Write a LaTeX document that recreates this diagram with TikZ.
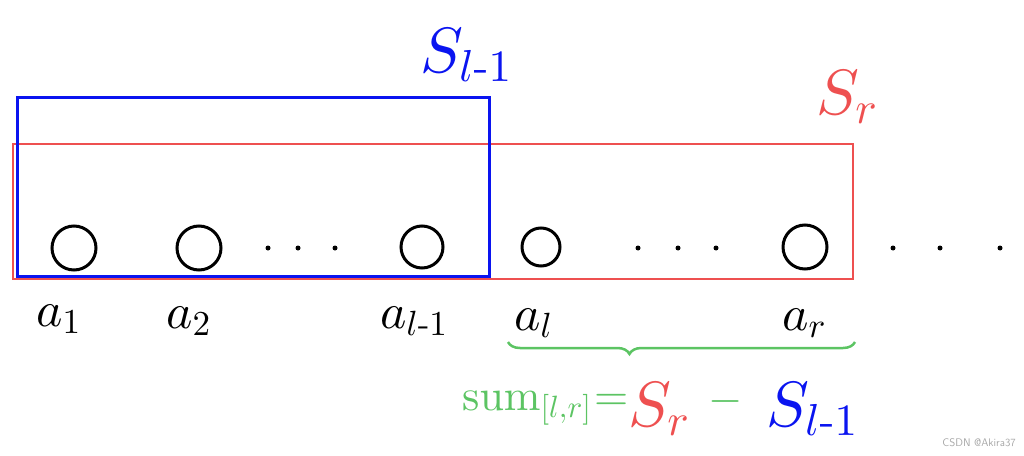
\documentclass[tikz,border=0pt]{standalone}
\DeclareFontShape{OML}{cmm}{m}{it}{<->cmmi10}{}
\DeclareFontShape{OMS}{cmsy}{m}{n}{<->cmsy10}{}
\DeclareFontShape{OT1}{cmr}{m}{n}{<->cmr10}{}
\DeclareFontShape{OMX}{cmex}{m}{n}{<->cmex10}{}
\newcommand{\hy}{\mathord{\mathchar"002D}}
\usetikzlibrary{decorations.pathreplacing}
\definecolor{myblue}{HTML}{0A14F0}
\definecolor{myred}{HTML}{EE5050}
\definecolor{mygreen}{HTML}{5CC463}
\begin{document}
\begin{tikzpicture}[x=1pt,y=-1pt,
  elem/.style={circle, draw=black, line width=3pt, minimum size=44pt, inner sep=0pt},
  lbl/.style={anchor=base west, inner sep=0pt, font=\fontsize{50}{50}\selectfont},
  dotmark/.style={fill=black, circle, inner sep=0pt, minimum size=5pt},
  big/.style={anchor=base west, inner sep=0pt, font=\fontsize{64}{64}\selectfont},
  frm/.style={anchor=base west, inner sep=0pt, text=mygreen, font=\fontsize{44}{44}\selectfont}]
\useasboundingbox (0,0) rectangle (1024,455);
% rectangles
\draw[myred, line width=2.8pt] (13,144) rectangle (853,279);
\draw[myblue, line width=3pt] (17,97) rectangle (489,276);
% elements
\node[elem] (c1) at (74,248) {};
\node[elem] (c2) at (199,248) {};
\node[elem, minimum size=42pt] (c3) at (422,247) {};
\node[elem, minimum size=38pt] (c4) at (541,247) {};
\node[elem, minimum size=44pt] (c5) at (805,247) {};
% dots
\foreach \n/\x in {d1/268,d2/298,d3/335,d4/638,d5/678,d6/716,d7/893,d8/940,d9/1000}
  \node[dotmark] (\n) at (\x,248) {};
% labels
\node[lbl] (a1) at (36,326) {$a_1$};
\node[lbl] (a2) at (166,328) {$a_2$};
\node[lbl] (al1) at (380,328) {$a_{l\hy1}$};
\node[lbl] (al) at (514,330) {$a_l$};
\node[lbl] (ar) at (782,330) {$a_r$};
% top labels
\node[big, text=myblue] (Sl1) at (420,72) {$S_{l\hy1}$};
\node[big, text=myred] (Sr) at (816,114) {$S_r$};
% brace
\coordinate (bl) at (508,342);
\coordinate (br) at (855,342);
\draw[mygreen, line width=2.5pt, decorate, decoration={brace, mirror, amplitude=12pt, aspect=0.35}] (bl) -- (br);
% formula
\node[frm] (sum) at (462,410) {$\mathrm{sum}_{[l,r]}$};
\node[frm] (eq) at (594,410) {$=$};
\node[big, text=myred] (Sr2) at (628,426) {$S_r$};
\node[frm] (minus) at (708,412) {$-$};
\node[big, text=myblue] (Sl2) at (766,426) {$S_{l\hy1}$};
% watermark
\node[anchor=base east, inner sep=0pt, text=gray!70, font=\sffamily\fontsize{11}{11}\selectfont] (wm) at (1016,446) {CSDN @Akira37};
\end{tikzpicture}
\end{document}
